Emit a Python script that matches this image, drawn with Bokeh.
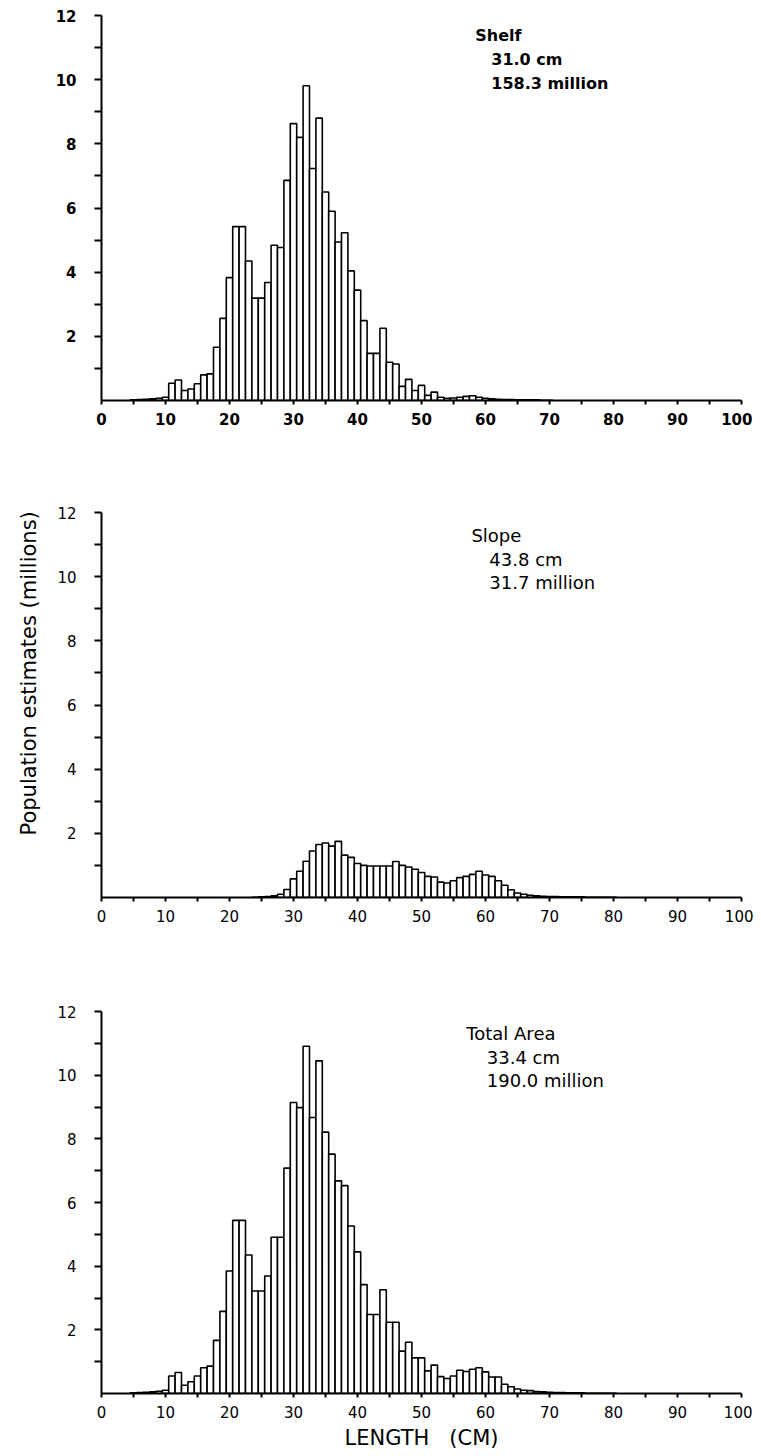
import math
from bokeh.plotting import figure
from bokeh.models import Range1d, FixedTicker, Label, ColumnDataSource
from bokeh.layouts import column
from bokeh.embed import file_html
from bokeh.resources import INLINE

# ---- data (population estimates in millions per 1-cm length class) ----
shelf_len = list(range(5, 71))
shelf_pop = [0.02, 0.03, 0.04, 0.05, 0.07, 0.10,
             0.54, 0.64, 0.31, 0.36, 0.52, 0.80, 0.83, 1.66, 2.56, 3.83,
             5.42, 5.42, 4.35, 3.19, 3.19, 3.68, 4.84, 4.77, 6.86, 8.63,
             8.20, 9.81, 7.23, 8.80, 6.50, 5.90, 4.94, 5.23, 4.04, 3.44,
             2.49, 1.47, 1.47, 2.25, 1.19, 1.14, 0.44, 0.66, 0.31, 0.47,
             0.16, 0.26, 0.10, 0.07, 0.08, 0.10, 0.13, 0.15, 0.10, 0.07,
             0.05, 0.04, 0.03, 0.03, 0.02, 0.02, 0.02, 0.02, 0.01, 0.01]

slope_len = list(range(24, 81))
slope_pop = [0.01, 0.02, 0.03, 0.05, 0.10, 0.25, 0.58, 0.82, 1.13, 1.45,
             1.65, 1.70, 1.60, 1.75, 1.32, 1.25, 1.06, 1.00, 0.98, 0.98,
             0.98, 0.98, 1.12, 1.00, 0.95, 0.88, 0.78, 0.66, 0.64, 0.48,
             0.45, 0.52, 0.62, 0.66, 0.72, 0.82, 0.70, 0.66, 0.52, 0.38,
             0.24, 0.14, 0.10, 0.07, 0.05, 0.04, 0.03, 0.03, 0.02, 0.02,
             0.02, 0.02, 0.01, 0.01, 0.01, 0.01, 0.01]

total_len = list(range(5, 81))
total_pop = [0.02, 0.03, 0.04, 0.05, 0.07, 0.10,
             0.55, 0.66, 0.26, 0.37, 0.55, 0.81, 0.86, 1.67, 2.58, 3.85,
             5.44, 5.44, 4.35, 3.22, 3.22, 3.69, 4.91, 4.91, 7.08, 9.14,
             8.98, 10.91, 8.67, 10.45, 8.21, 7.52, 6.68, 6.53, 5.26, 4.45,
             3.42, 2.48, 2.48, 3.26, 2.24, 2.24, 1.33, 1.61, 1.12, 1.12,
             0.71, 0.89, 0.53, 0.47, 0.55, 0.73, 0.69, 0.76, 0.81, 0.68,
             0.52, 0.52, 0.29, 0.21, 0.14, 0.10, 0.09, 0.06, 0.05, 0.04,
             0.03, 0.03, 0.02, 0.02, 0.02, 0.01, 0.01, 0.01, 0.01, 0.01]

shelf_text = ["Shelf", "31.0 cm", "158.3 million"]
slope_text = ["Slope", "43.8 cm", "31.7 million"]
total_text = ["Total Area", "33.4 cm", "190.0 million"]

y_ticks = list(range(1, 13))
x_ticks = list(range(0, 101, 5))

FONT = "DejaVu Sans"


def panel(lengths, pops, texts, text_pos, bold, b_top, b_bottom, fh):
    p = figure(frame_width=640, frame_height=fh,
               x_range=Range1d(0, 100), y_range=Range1d(0, 12),
               output_backend="svg", toolbar_location=None,
               min_border_left=100, min_border_right=12,
               min_border_top=b_top, min_border_bottom=b_bottom)
    p.outline_line_color = None
    p.xgrid.visible = False
    p.ygrid.visible = False
    p.background_fill_color = "white"

    src = ColumnDataSource(dict(left=[v - 0.5 for v in lengths],
                                right=[v + 0.5 for v in lengths],
                                top=pops, bottom=[0] * len(pops)))
    p.quad(left="left", right="right", top="top", bottom="bottom", source=src,
           fill_color="white", line_color="black", line_width=1.6)

    weight = "bold" if bold else "normal"
    for ax in (p.xaxis[0], p.yaxis[0]):
        ax.axis_line_width = 2
        ax.axis_line_color = "black"
        ax.major_tick_in = 0
        ax.major_tick_line_width = 2
        ax.minor_tick_line_color = None
        ax.major_label_text_font = FONT
        ax.major_label_text_color = "black"
    p.yaxis.ticker = FixedTicker(ticks=y_ticks)
    p.yaxis.major_label_overrides = {t: "" for t in y_ticks if t % 2 == 1}
    p.yaxis.major_label_text_font_size = "15px"
    p.yaxis.major_label_text_font_style = weight
    p.yaxis.major_label_standoff = 18
    p.yaxis.major_tick_out = 7
    p.xaxis.ticker = FixedTicker(ticks=x_ticks)
    p.xaxis.major_label_overrides = {t: "" for t in x_ticks if t % 10 == 5}
    p.xaxis.major_label_text_font_size = "15px"
    p.xaxis.major_label_text_font_style = "bold" if bold else "normal"
    p.xaxis.major_label_standoff = 8
    p.xaxis.major_tick_out = 4

    size = "16px" if bold else "18px"
    for t, (x, y) in zip(texts, text_pos):
        p.add_layout(Label(x=x, y=y, text=t, text_font=FONT,
                           text_font_size=size, text_font_style=weight,
                           text_baseline="middle", text_align="left",
                           text_color="black"))
    return p


p1 = panel(shelf_len, shelf_pop, shelf_text,
           [(58.4, 11.38), (60.9, 10.62), (60.9, 9.88)], True, 15, 50, 385)
p2 = panel(slope_len, slope_pop, slope_text,
           [(57.8, 11.28), (60.6, 10.55), (60.6, 9.82)], False, 62, 50, 385)
p3 = panel(total_len, total_pop, total_text,
           [(57.0, 11.31), (60.2, 10.56), (60.2, 9.84)], False, 64, 48, 382)

p2.title.text = "Population estimates (millions)"
p2.title_location = "left"
p2.title.align = "left"
p2.title.offset = 62
p2.title.standoff = 28
p2.title.text_font = FONT
p2.title.text_font_size = "21px"
p2.title.text_font_style = "normal"
p2.title.text_color = "black"

p3.xaxis.axis_label = "LENGTH\u00a0\u00a0\u00a0(CM)"
p3.xaxis.axis_label_text_font = FONT
p3.xaxis.axis_label_text_font_style = "normal"
p3.xaxis.axis_label_text_font_size = "21px"
p3.xaxis.axis_label_text_color = "black"
p3.xaxis.axis_label_standoff = 5

layout = column(p1, p2, p3)
open("out.html", "w").write(file_html(layout, INLINE))
